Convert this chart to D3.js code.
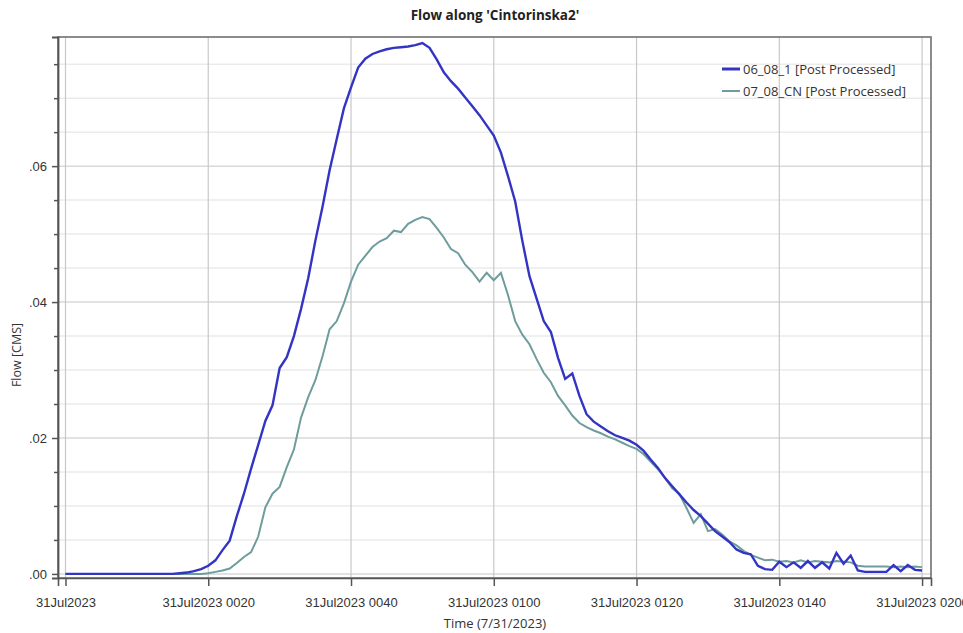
<!DOCTYPE html>
<html>
<head>
<meta charset="utf-8">
<script src="https://cdn.jsdelivr.net/npm/d3@7"></script>
<style>
  body { margin: 0; background: #fff; }
  svg { display: block; font-family: "Open Sans", "Noto Sans", sans-serif; }
</style>
</head>
<body>
<div id="chart"></div>
<script>
// minutes after 31Jul2023 0000
const minutes = d3.range(0, 121);

const flow0608 = [
  0, 0, 0, 0, 0, 0, 0, 0, 0, 0,
  0, 0, 0, 0, 0, 0, 0.0001, 0.0002, 0.0004, 0.0007,
  0.0012, 0.002, 0.0035, 0.0049, 0.0085, 0.0118, 0.0155, 0.019, 0.0225, 0.0248,
  0.0303, 0.0319, 0.035, 0.039, 0.0435, 0.049, 0.054, 0.0594, 0.064, 0.0685,
  0.0716, 0.0745, 0.0758, 0.0765, 0.0769, 0.0772, 0.0774, 0.0775, 0.0776, 0.0778,
  0.0781, 0.0774, 0.0757, 0.0738, 0.0725, 0.0714, 0.0701, 0.0688, 0.0675, 0.066,
  0.0645, 0.062, 0.0585, 0.0548, 0.049, 0.0438, 0.0405, 0.0372, 0.0356, 0.0318,
  0.0287, 0.0295, 0.0262, 0.0235, 0.0224, 0.0217, 0.021, 0.0204, 0.02, 0.0196,
  0.019, 0.0181, 0.0168, 0.0156, 0.0141, 0.0129, 0.0117, 0.0105, 0.0094, 0.0085,
  0.0074, 0.0063, 0.0055, 0.0047, 0.0036, 0.0031, 0.0029, 0.0012, 0.0007, 0.0006,
  0.0018, 0.001, 0.0017, 0.0009, 0.0019, 0.0009, 0.0017, 0.0008, 0.0031, 0.0015,
  0.0027, 0.0005, 0.0003, 0.0003, 0.0003, 0.0003, 0.0013, 0.0004, 0.0013, 0.0006,
  0.0005
];

const flow0708 = [
  0, 0, 0, 0, 0, 0, 0, 0, 0, 0,
  0, 0, 0, 0, 0, 0, 0, 0, 0, 0,
  0.0001, 0.0003, 0.0005, 0.0008, 0.0016, 0.0025, 0.0032, 0.0055, 0.0098, 0.0118,
  0.0128, 0.0157, 0.0183, 0.023, 0.026, 0.0285, 0.032, 0.036, 0.0372, 0.0398,
  0.043, 0.0455, 0.0468, 0.0481, 0.0489, 0.0494, 0.0505, 0.0503, 0.0515, 0.0521,
  0.0525, 0.0522, 0.0509, 0.0495, 0.0478, 0.0472, 0.0455, 0.0444, 0.043, 0.0443,
  0.0432, 0.0443, 0.041, 0.0372, 0.0352, 0.0338, 0.0316, 0.0296, 0.0282, 0.0262,
  0.0248, 0.0233, 0.0222, 0.0216, 0.0211, 0.0207, 0.0202, 0.0198, 0.0193, 0.0188,
  0.0184, 0.0176, 0.0165, 0.0154, 0.0141, 0.0126, 0.0118, 0.0097, 0.0075, 0.0088,
  0.0063, 0.0066, 0.0058, 0.0048, 0.0042, 0.0034, 0.0028, 0.0024, 0.002, 0.0021,
  0.0018, 0.0019, 0.0017, 0.002, 0.0017, 0.0019, 0.0018, 0.0017, 0.0019, 0.0018,
  0.0017, 0.0012, 0.0011, 0.0011, 0.0011, 0.0011, 0.001, 0.0011, 0.001, 0.0011,
  0.001
];

const seriesNames = ["06_08_1 [Post Processed]", "07_08_CN [Post Processed]"];
const seriesColors = ["#3434c4", "#6f9c9c"];

const xTickMinutes = [0, 20, 40, 60, 80, 100, 120];
const xTickLabels = ["31Jul2023", "31Jul2023 0020", "31Jul2023 0040", "31Jul2023 0100",
                     "31Jul2023 0120", "31Jul2023 0140", "31Jul2023 0200"];
const yMajorTicks = [0, 0.02, 0.04, 0.06];

const width = 963;
const height = 633;
const margin = {top: 37, right: 32, bottom: 55, left: 58};
const innerW = width - margin.left - margin.right;
const innerH = height - margin.top - margin.bottom;

const svg = d3.select('#chart').append('svg')
    .attr('width', width)
    .attr('height', height);

const x = d3.scaleLinear()
    .domain([-1.05, 121.25])
    .range([0, innerW]);

const y = d3.scaleLinear()
    .domain([-0.0006, 0.079])
    .range([innerH, 0]);

const g = svg.append("g")
    .attr("transform", "translate(" + margin.left + "," + margin.top + ")");

// grid
const yMinor = d3.range(0, 0.0791, 0.005);
g.append("g").selectAll("line")
    .data(yMinor)
    .enter().append("line")
    .attr("x1", 0).attr("x2", innerW)
    .attr("y1", d => y(d)).attr("y2", d => y(d))
    .attr("stroke", d => yMajorTicks.some(m => Math.abs(m - d) < 1e-9) ? "#d9d9d9" : "#ebebeb")
    .attr("stroke-width", 1.5);

g.append("g").selectAll("line")
    .data(xTickMinutes)
    .enter().append("line")
    .attr("x1", d => x(d)).attr("x2", d => x(d))
    .attr("y1", 0).attr("y2", innerH)
    .attr("stroke", "#c8c8c8")
    .attr("stroke-width", 1.2);

// lines
const line = d3.line()
    .x((d, i) => x(minutes[i]))
    .y(d => y(d));

g.append("path")
    .datum(flow0708)
    .attr("d", line)
    .attr("fill", "none")
    .attr("stroke", seriesColors[1])
    .attr("stroke-width", 2);

g.append("path")
    .datum(flow0608)
    .attr("d", line)
    .attr("fill", "none")
    .attr("stroke", seriesColors[0])
    .attr("stroke-width", 2.4);

// frame
g.append("rect")
    .attr("width", innerW)
    .attr("height", innerH)
    .attr("fill", "none")
    .attr("stroke", "#707070")
    .attr("stroke-width", 1.6);

// axes
const xAxis = d3.axisBottom(x)
    .tickValues(xTickMinutes)
    .tickSize(8)
    .tickFormat((d, i) => xTickLabels[i]);

const xg = g.append("g")
    .attr("transform", "translate(0," + innerH + ")")
    .call(xAxis);
xg.select(".domain").attr("stroke", "#555").attr("stroke-width", 1.6);
xg.selectAll(".tick line").attr("stroke", "#555").attr("stroke-width", 1.5);
xg.selectAll(".tick text")
    .attr("dy", "1.35em")
    .attr("fill", "#333")
    .style("font-size", "13px");

const yAxis = d3.axisLeft(y)
    .tickValues(yMajorTicks)
    .tickSize(6)
    .tickFormat(d => d3.format(".2f")(d).replace(/^0/, ""));

const yg = g.append("g").call(yAxis);
yg.select(".domain").attr("stroke", "#555").attr("stroke-width", 1.8);
yg.selectAll(".tick line").attr("stroke", "#555").attr("stroke-width", 1.5);
yg.selectAll(".tick text")
    .attr("x", -11)
    .attr("fill", "#333")
    .style("font-size", "13px");

const yMinorAxis = d3.axisLeft(y)
    .tickValues(yMinor.filter(d => !yMajorTicks.some(m => Math.abs(m - d) < 1e-9)))
    .tickSize(4)
    .tickFormat("");
const ymg = g.append("g").call(yMinorAxis);
ymg.select(".domain").remove();
ymg.selectAll(".tick line").attr("stroke", "#555").attr("stroke-width", 1.5);

// titles
svg.append("text")
    .attr("x", 495)
    .attr("y", 20)
    .attr("text-anchor", "middle")
    .attr("fill", "#222")
    .style("font-size", "13.5px")
    .style("font-weight", "bold")
    .text("Flow along 'Cintorinska2'");

svg.append("text")
    .attr("x", 495)
    .attr("y", 628)
    .attr("text-anchor", "middle")
    .attr("fill", "#333")
    .style("font-size", "13px")
    .text("Time (7/31/2023)");

svg.append("text")
    .attr("transform", "translate(21,355) rotate(-90)")
    .attr("text-anchor", "middle")
    .attr("fill", "#333")
    .style("font-size", "12.5px")
    .text("Flow [CMS]");

// legend
const legend = svg.append("g")
    .attr("transform", "translate(722,69)");

const items = legend.selectAll("g")
    .data(seriesNames)
    .enter().append("g")
    .attr("transform", (_, i) => "translate(0," + i * 22 + ")");

items.append("line")
    .attr("x1", 0).attr("x2", 18)
    .attr("stroke", (_, i) => seriesColors[i])
    .attr("stroke-width", (_, i) => i === 0 ? 3 : 2);

items.append("text")
    .attr("x", 21)
    .attr("dy", "0.35em")
    .attr("fill", "#333")
    .style("font-size", "13px")
    .text(d => d);
</script>
</body>
</html>
